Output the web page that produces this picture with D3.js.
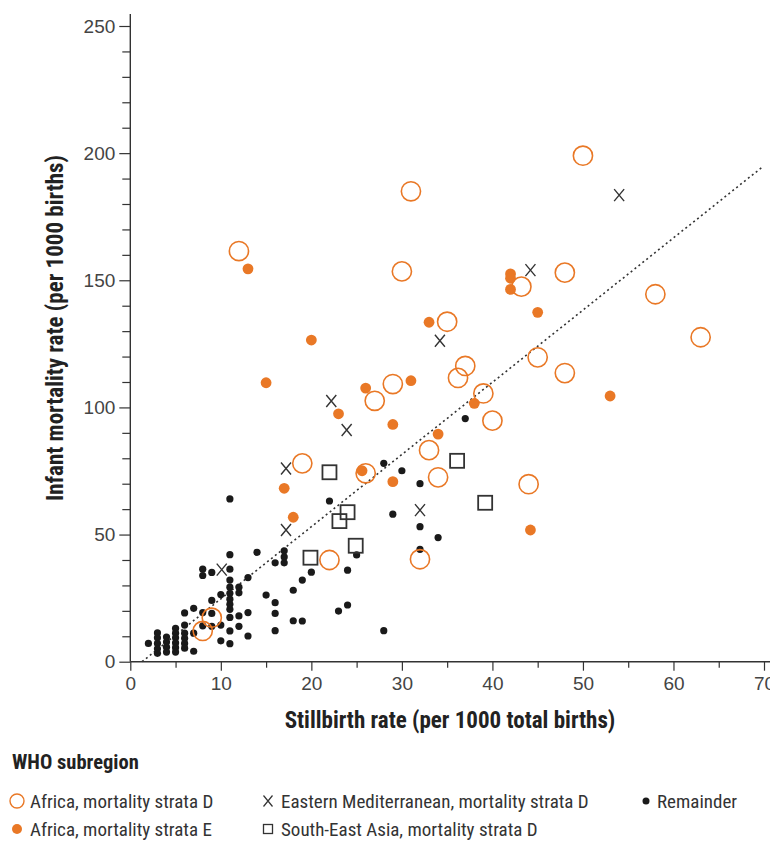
<!DOCTYPE html>
<html>
<head>
<meta charset="utf-8">
<script src="https://cdn.jsdelivr.net/npm/d3@7"></script>
<style>
  body { margin: 0; background: #fff; }
  svg { font-family: "Liberation Sans Narrow", "Roboto Condensed", "DejaVu Sans Condensed", sans-serif; }
</style>
</head>
<body>
<svg id="chart" width="770" height="841"></svg>
<script>
const width = 770;
const height = 841;
const orange = "#e97826";
const ink = "#333";

// Africa, mortality strata D (open circles)
const afrDX = [50, 31, 12, 30, 48, 43.2, 58, 35, 63, 45, 37, 36.2, 48, 29, 39, 27, 40, 33, 34, 44, 32, 26, 19, 22, 8, 9];
const afrDY = [199, 185, 161.5, 153.5, 153, 147.5, 144.5, 133.7, 127.6, 119.7, 116.3, 111.6, 113.5, 109.2, 105.5, 102.6, 94.8, 83.2, 72.5, 69.8, 40.3, 74.1, 78, 40, 12.1, 17.3];

// Africa, mortality strata E (filled orange)
const afrEX = [13, 20, 15, 26, 23, 33, 42, 42, 42, 45, 31, 38, 53, 29, 34, 25.6, 29, 44.2, 17, 18];
const afrEY = [154.5, 126.5, 109.7, 107.6, 97.5, 133.5, 152.5, 150.8, 146.4, 137.4, 110.5, 101.6, 104.5, 93.3, 89.5, 75.1, 70.8, 51.8, 68.2, 56.8];

// Eastern Mediterranean, mortality strata D (crosses)
const emrX = [54, 44.2, 34.2, 22.2, 23.9, 17.2, 17.2, 32, 10.1];
const emrY = [183.5, 154, 126.2, 102.5, 91.1, 76, 51.8, 59.6, 36.2];

// South-East Asia, mortality strata D (open squares)
const searX = [22, 24, 23.1, 24.9, 19.9, 36.1, 39.2];
const searY = [74.5, 58.8, 55.3, 45.6, 40.9, 79, 62.5];

// Remainder (small black dots)
const restX = [2, 3, 3, 3, 3, 3, 4, 4, 4, 4, 5, 5, 5, 5, 5, 5, 6, 6, 6, 6, 6, 6, 7, 7, 7,
  8, 8, 8, 8, 9, 9, 9, 9, 10, 10, 10,
  11, 11, 11, 11, 11, 11, 11, 11, 11, 11, 11, 11,
  12, 12, 12, 12, 13, 13, 13, 14, 15, 16, 16, 16, 16, 17, 17, 17, 18, 18, 19, 19, 20,
  22, 23, 24, 24, 25, 28, 28, 29, 30, 32, 32, 32, 34, 37];
const restY = [7.2, 11.3, 9.4, 7.2, 5.1, 3.3, 9.7, 7.7, 5.7, 3.8, 13.1, 11.2, 9.4, 7.4, 5.5, 3.8, 19.2, 14.4, 11.2, 9.2, 7.2, 5.3, 21, 11.2, 4.1,
  36.4, 33.9, 19.3, 14.1, 35.1, 24.1, 19, 13.9, 26.4, 14.4, 8.2,
  64, 42.1, 36.4, 32.1, 29.3, 26.9, 24.6, 22.6, 20.6, 17.4, 12.1, 7.1,
  29.3, 27.1, 18, 13.9, 33.1, 19.3, 10.1, 43, 26.2, 38.9, 23.2, 19, 12.2, 43.6, 41.2, 38.9, 28.1, 16.1, 32.1, 16, 35.2,
  63.2, 19.9, 36, 22.3, 42, 78, 12.2, 58, 75.1, 70, 53.1, 44.2, 48.8, 95.6];

// fitted line end points
const fitX = [1.3, 69.7];
const fitY = [0, 194.2];

const xTicks = d3.range(0, 71, 10);
const xMinor = d3.range(5, 71, 10);
const yTicks = d3.range(0, 251, 50);
const yMinor = d3.range(10, 251, 10).filter(d => d % 50 !== 0);

const svg = d3.select("#chart");

const x = d3.scaleLinear().domain([0, 70]).range([130.3, 764]);
const y = d3.scaleLinear().domain([0, 250]).range([661.7, 26]);

// Axes
const xAxisG = svg.append("g").attr("transform", `translate(0,${y(0)})`);
xAxisG.append("g").call(d3.axisBottom(x).tickValues(xMinor).tickSize(6).tickFormat(""));
xAxisG.append("g").call(d3.axisBottom(x).tickValues(xTicks).tickSize(9).tickPadding(6).tickFormat(d => d));
xAxisG.selectAll(".domain").remove();
xAxisG.append("line").attr("x1", x(0)).attr("x2", width).attr("stroke", ink).attr("stroke-width", 1.4);

const yAxisG = svg.append("g").attr("transform", `translate(${x(0)},0)`);
yAxisG.append("g").call(d3.axisLeft(y).tickValues(yMinor).tickSize(8).tickFormat(""));
yAxisG.append("g").call(d3.axisLeft(y).tickValues(yTicks).tickSize(11).tickPadding(4).tickFormat(d => d));
yAxisG.selectAll(".domain").remove();
yAxisG.append("line").attr("y1", 14).attr("y2", y(0)).attr("stroke", ink).attr("stroke-width", 1.4);

svg.selectAll(".tick line").attr("stroke", ink).attr("stroke-width", 1.2);
svg.selectAll(".tick text").attr("fill", "#444").style("font-size", "19px").attr("font-family", null);

// Axis titles
svg.append("text")
  .attr("x", 450).attr("y", 728)
  .attr("text-anchor", "middle")
  .style("font-size", "23px").style("font-weight", "bold").attr("fill", "#222")
  .text("Stillbirth rate (per 1000 total births)");

svg.append("text")
  .attr("transform", "translate(63,328) rotate(-90)")
  .attr("text-anchor", "middle")
  .style("font-size", "23px").style("font-weight", "bold").attr("fill", "#222")
  .text("Infant mortality rate (per 1000 births)");

// Fitted line
svg.append("line")
  .attr("x1", x(fitX[0])).attr("y1", y(fitY[0]))
  .attr("x2", x(fitX[1])).attr("y2", y(fitY[1]))
  .attr("stroke", ink).attr("stroke-width", 1.6)
  .attr("stroke-dasharray", "2,3");

const pts = (xs, ys) => xs.map((d, i) => ({ x: d, y: ys[i] }));

// Remainder
svg.append("g").selectAll("circle")
  .data(pts(restX, restY)).enter().append("circle")
  .attr("cx", d => x(d.x)).attr("cy", d => y(d.y))
  .attr("r", 3.6).attr("fill", "#1a1a1a");

// South-East Asia D
svg.append("g").selectAll("rect")
  .data(pts(searX, searY)).enter().append("rect")
  .attr("x", d => x(d.x) - 7).attr("y", d => y(d.y) - 7)
  .attr("width", 14).attr("height", 14)
  .attr("fill", "none").attr("stroke", ink).attr("stroke-width", 1.8);

// Eastern Mediterranean D
svg.append("g").selectAll("path")
  .data(pts(emrX, emrY)).enter().append("path")
  .attr("d", d => {
    const cx = x(d.x), cy = y(d.y), s = 5;
    return `M${cx - s},${cy - s - 1}L${cx + s},${cy + s + 1}M${cx + s},${cy - s - 1}L${cx - s},${cy + s + 1}`;
  })
  .attr("stroke", ink).attr("stroke-width", 1.4).attr("fill", "none");

// Africa E
svg.append("g").selectAll("circle")
  .data(pts(afrEX, afrEY)).enter().append("circle")
  .attr("cx", d => x(d.x)).attr("cy", d => y(d.y))
  .attr("r", 5.4).attr("fill", orange);

// Africa D
svg.append("g").selectAll("circle")
  .data(pts(afrDX, afrDY)).enter().append("circle")
  .attr("cx", d => x(d.x)).attr("cy", d => y(d.y))
  .attr("r", 9.6).attr("fill", "none").attr("stroke", orange).attr("stroke-width", 1.6);

// Legend
const legend = svg.append("g");
legend.append("text").attr("x", 12).attr("y", 769)
  .style("font-size", "20.5px").style("font-weight", "bold").attr("fill", "#222")
  .text("WHO subregion");

const items = [
  { label: "Africa, mortality strata D", sx: 17, tx: 30, cy: 801, kind: "open" },
  { label: "Africa, mortality strata E", sx: 17, tx: 30, cy: 829, kind: "filled" },
  { label: "Eastern Mediterranean, mortality strata D", sx: 268, tx: 281, cy: 801, kind: "cross" },
  { label: "South-East Asia, mortality strata D", sx: 268, tx: 281, cy: 829, kind: "square" },
  { label: "Remainder", sx: 646, tx: 657, cy: 801, kind: "dot" }
];

items.forEach(it => {
  if (it.kind === "open") {
    legend.append("circle").attr("cx", it.sx).attr("cy", it.cy).attr("r", 7)
      .attr("fill", "none").attr("stroke", orange).attr("stroke-width", 1.4);
  } else if (it.kind === "filled") {
    legend.append("circle").attr("cx", it.sx).attr("cy", it.cy).attr("r", 5).attr("fill", orange);
  } else if (it.kind === "cross") {
    const s = 4.5;
    legend.append("path")
      .attr("d", `M${it.sx - s},${it.cy - s - 1}L${it.sx + s},${it.cy + s + 1}M${it.sx + s},${it.cy - s - 1}L${it.sx - s},${it.cy + s + 1}`)
      .attr("stroke", ink).attr("stroke-width", 1.2);
  } else if (it.kind === "square") {
    legend.append("rect").attr("x", it.sx - 4.5).attr("y", it.cy - 4.5).attr("width", 9).attr("height", 9)
      .attr("fill", "none").attr("stroke", ink).attr("stroke-width", 1.3);
  } else {
    legend.append("circle").attr("cx", it.sx).attr("cy", it.cy).attr("r", 3.5).attr("fill", "#1a1a1a");
  }
  legend.append("text").attr("x", it.tx).attr("y", it.cy).attr("dy", "0.35em")
    .style("font-size", "19px").attr("fill", "#333").text(it.label);
});
</script>
</body>
</html>
